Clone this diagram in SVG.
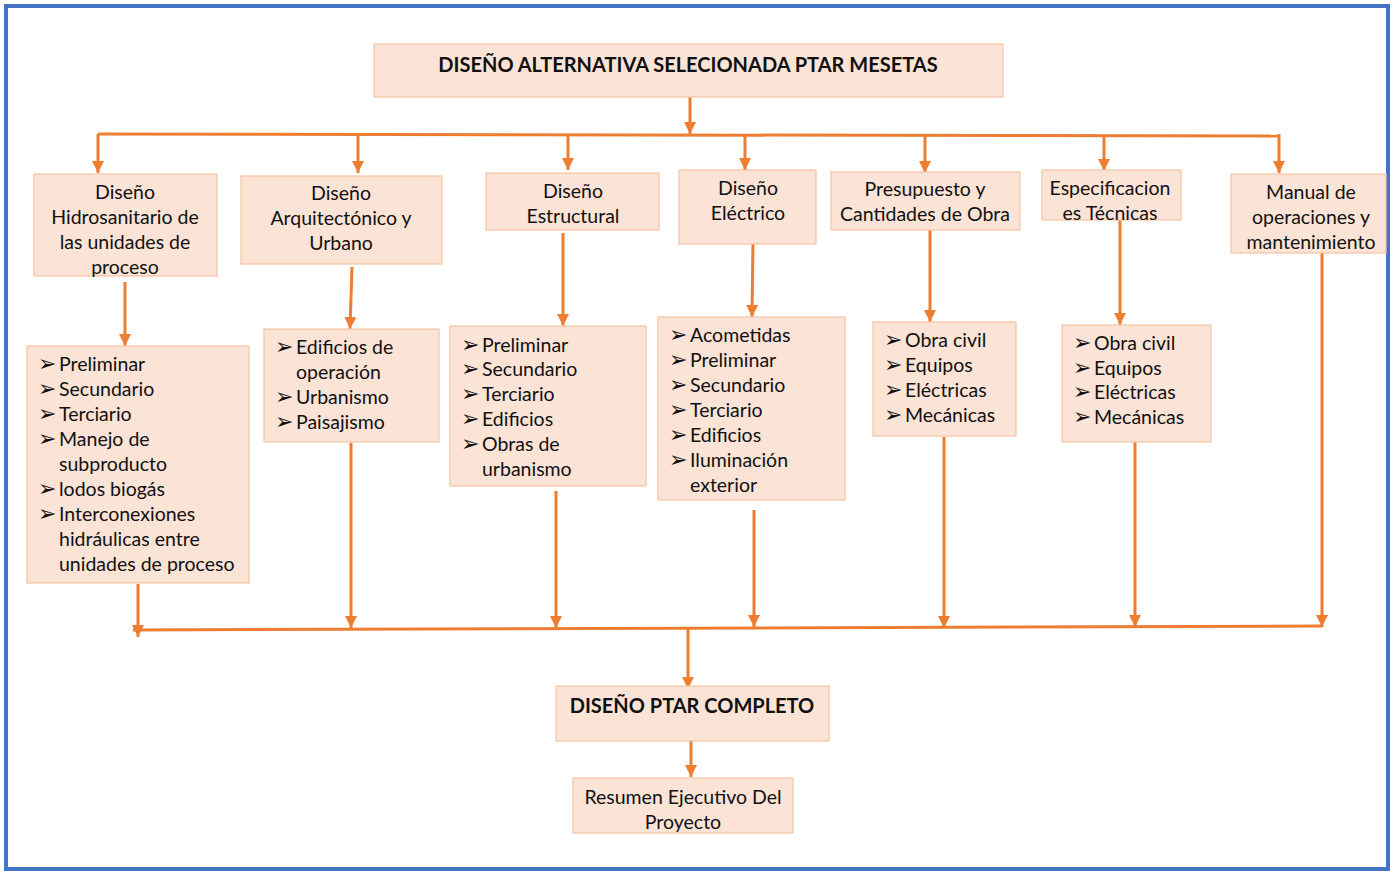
<svg xmlns="http://www.w3.org/2000/svg" width="1395" height="872" viewBox="0 0 1395 872">
  <style>
    .box { fill: #FBE3D6; stroke: #F6C3A3; stroke-width: 1.2; }
    .t { font-family: Lato, "Open Sans", "Liberation Sans", sans-serif; font-size: 19.5px; fill: #111; }
    .c { text-anchor: middle; }
    .b { font-weight: bold; font-size: 20px; }
    .bl { font-family: "DejaVu Sans", sans-serif; font-size: 22px; fill: #111; }
    .ln { stroke: #ED7D31; stroke-width: 3; fill: none; }
    .ar { stroke: #ED7D31; stroke-width: 3; fill: none; marker-end: url(#tip); }
  </style>
  <defs>
    <marker id="tip" viewBox="0 0 12 12" refX="12" refY="6" markerWidth="12" markerHeight="12" markerUnits="userSpaceOnUse" orient="auto">
      <path d="M0,0 L12,6 L0,12 Z" fill="#ED7D31"/>
    </marker>
  </defs>

  <!-- frame -->
  <rect x="0" y="0" width="1395" height="872" fill="#fff"/>
  <rect x="6" y="6" width="1382" height="863" fill="none" stroke="#4472C4" stroke-width="4"/>

  <!-- connectors -->
  <g id="connectors">
    <line class="ar" x1="690" y1="97" x2="690" y2="134"/>
    <polyline class="ln" points="98,134 1279,136"/>
    <line class="ar" x1="98" y1="134" x2="98" y2="173"/>
    <line class="ar" x1="358" y1="134" x2="358" y2="173"/>
    <line class="ar" x1="568" y1="134" x2="568" y2="170"/>
    <line class="ar" x1="745" y1="134" x2="745" y2="170"/>
    <line class="ar" x1="925" y1="135" x2="925" y2="173"/>
    <line class="ar" x1="1104" y1="135" x2="1104" y2="171"/>
    <line class="ar" x1="1279" y1="134" x2="1279" y2="173"/>

    <line class="ar" x1="125" y1="282" x2="125" y2="346"/>
    <line class="ar" x1="352" y1="267" x2="350" y2="329"/>
    <line class="ar" x1="563" y1="233" x2="563" y2="326"/>
    <line class="ar" x1="753" y1="241" x2="752" y2="317"/>
    <line class="ar" x1="930" y1="226" x2="930" y2="322"/>
    <line class="ar" x1="1120" y1="220" x2="1120" y2="325"/>

    <line class="ar" x1="138" y1="584" x2="138" y2="637"/>
    <line class="ar" x1="351" y1="443" x2="351" y2="628"/>
    <line class="ar" x1="556" y1="491" x2="556" y2="628"/>
    <line class="ar" x1="754" y1="510" x2="754" y2="627"/>
    <line class="ar" x1="944" y1="437" x2="944" y2="628"/>
    <line class="ar" x1="1135" y1="442" x2="1135" y2="627"/>
    <line class="ar" x1="1322" y1="253" x2="1322" y2="627"/>
    <line class="ln" x1="133" y1="630" x2="1322" y2="626"/>

    <line class="ar" x1="688" y1="628" x2="688" y2="689"/>
    <line class="ar" x1="691" y1="737" x2="691" y2="777"/>
  </g>

  <!-- top -->
  <g id="n-title">
    <rect class="box" x="374" y="44" width="629" height="53"/>
    <text class="t b c" x="688" y="72">DISEÑO ALTERNATIVA SELECIONADA PTAR MESETAS</text>
  </g>

  <!-- second row -->
  <g id="n-hidro">
    <rect class="box" x="34" y="174" width="183" height="102"/>
    <text class="t c" x="125" y="199">Diseño</text>
    <text class="t c" x="125" y="224">Hidrosanitario de</text>
    <text class="t c" x="125" y="249">las unidades de</text>
    <text class="t c" x="125" y="274">proceso</text>
  </g>
  <g id="n-arq">
    <rect class="box" x="241" y="176" width="201" height="88"/>
    <text class="t c" x="341" y="200">Diseño</text>
    <text class="t c" x="341" y="225">Arquitectónico y</text>
    <text class="t c" x="341" y="250">Urbano</text>
  </g>
  <g id="n-estr">
    <rect class="box" x="486" y="173" width="173" height="57"/>
    <text class="t c" x="573" y="198">Diseño</text>
    <text class="t c" x="573" y="223">Estructural</text>
  </g>
  <g id="n-elec">
    <rect class="box" x="679" y="170" width="137" height="74"/>
    <text class="t c" x="748" y="195">Diseño</text>
    <text class="t c" x="748" y="220">Eléctrico</text>
  </g>
  <g id="n-pres">
    <rect class="box" x="831" y="172" width="189" height="58"/>
    <text class="t c" x="925" y="196">Presupuesto y</text>
    <text class="t c" x="925" y="221">Cantidades de Obra</text>
  </g>
  <g id="n-espec">
    <rect class="box" x="1042" y="170" width="139" height="50"/>
    <text class="t c" x="1110" y="195">Especificacion</text>
    <text class="t c" x="1110" y="220">es Técnicas</text>
  </g>
  <g id="n-manual">
    <rect class="box" x="1231" y="174" width="155" height="79"/>
    <text class="t c" x="1311" y="199">Manual de</text>
    <text class="t c" x="1311" y="224">operaciones y</text>
    <text class="t c" x="1311" y="249">mantenimiento</text>
  </g>

  <!-- detail lists -->
  <g id="l-hidro">
    <rect class="box" x="27" y="346" width="222" height="237"/>
    <text class="bl" x="38" y="371">➢</text><text class="t" x="59" y="371">Preliminar</text>
    <text class="bl" x="38" y="396">➢</text><text class="t" x="59" y="396">Secundario</text>
    <text class="bl" x="38" y="421">➢</text><text class="t" x="59" y="421">Terciario</text>
    <text class="bl" x="38" y="446">➢</text><text class="t" x="59" y="446">Manejo de</text>
    <text class="t" x="59" y="471">subproducto</text>
    <text class="bl" x="38" y="496">➢</text><text class="t" x="59" y="496">lodos biogás</text>
    <text class="bl" x="38" y="521">➢</text><text class="t" x="59" y="521">Interconexiones</text>
    <text class="t" x="59" y="546">hidráulicas entre</text>
    <text class="t" x="59" y="571">unidades de proceso</text>
  </g>
  <g id="l-arq">
    <rect class="box" x="264" y="329" width="175" height="113"/>
    <text class="bl" x="275" y="354">➢</text><text class="t" x="296" y="354">Edificios de</text>
    <text class="t" x="296" y="379">operación</text>
    <text class="bl" x="275" y="404">➢</text><text class="t" x="296" y="404">Urbanismo</text>
    <text class="bl" x="275" y="429">➢</text><text class="t" x="296" y="429">Paisajismo</text>
  </g>
  <g id="l-estr">
    <rect class="box" x="450" y="326" width="196" height="160"/>
    <text class="bl" x="461" y="352">➢</text><text class="t" x="482" y="352">Preliminar</text>
    <text class="bl" x="461" y="376">➢</text><text class="t" x="482" y="376">Secundario</text>
    <text class="bl" x="461" y="401">➢</text><text class="t" x="482" y="401">Terciario</text>
    <text class="bl" x="461" y="426">➢</text><text class="t" x="482" y="426">Edificios</text>
    <text class="bl" x="461" y="451">➢</text><text class="t" x="482" y="451">Obras de</text>
    <text class="t" x="482" y="476">urbanismo</text>
  </g>
  <g id="l-elec">
    <rect class="box" x="658" y="317" width="187" height="183"/>
    <text class="bl" x="669" y="342">➢</text><text class="t" x="690" y="342">Acometidas</text>
    <text class="bl" x="669" y="367">➢</text><text class="t" x="690" y="367">Preliminar</text>
    <text class="bl" x="669" y="392">➢</text><text class="t" x="690" y="392">Secundario</text>
    <text class="bl" x="669" y="417">➢</text><text class="t" x="690" y="417">Terciario</text>
    <text class="bl" x="669" y="442">➢</text><text class="t" x="690" y="442">Edificios</text>
    <text class="bl" x="669" y="467">➢</text><text class="t" x="690" y="467">Iluminación</text>
    <text class="t" x="690" y="492">exterior</text>
  </g>
  <g id="l-pres">
    <rect class="box" x="873" y="322" width="143" height="114"/>
    <text class="bl" x="884" y="347">➢</text><text class="t" x="905" y="347">Obra civil</text>
    <text class="bl" x="884" y="372">➢</text><text class="t" x="905" y="372">Equipos</text>
    <text class="bl" x="884" y="397">➢</text><text class="t" x="905" y="397">Eléctricas</text>
    <text class="bl" x="884" y="422">➢</text><text class="t" x="905" y="422">Mecánicas</text>
  </g>
  <g id="l-espec">
    <rect class="box" x="1062" y="325" width="149" height="117"/>
    <text class="bl" x="1073" y="350">➢</text><text class="t" x="1094" y="350">Obra civil</text>
    <text class="bl" x="1073" y="375">➢</text><text class="t" x="1094" y="375">Equipos</text>
    <text class="bl" x="1073" y="399">➢</text><text class="t" x="1094" y="399">Eléctricas</text>
    <text class="bl" x="1073" y="424">➢</text><text class="t" x="1094" y="424">Mecánicas</text>
  </g>

  <!-- bottom -->
  <g id="n-completo">
    <rect class="box" x="556" y="686" width="273" height="55"/>
    <text class="t b c" x="692" y="713">DISEÑO PTAR COMPLETO</text>
  </g>
  <g id="n-resumen">
    <rect class="box" x="573" y="778" width="220" height="55"/>
    <text class="t c" x="683" y="804">Resumen Ejecutivo Del</text>
    <text class="t c" x="683" y="829">Proyecto</text>
  </g>
</svg>
